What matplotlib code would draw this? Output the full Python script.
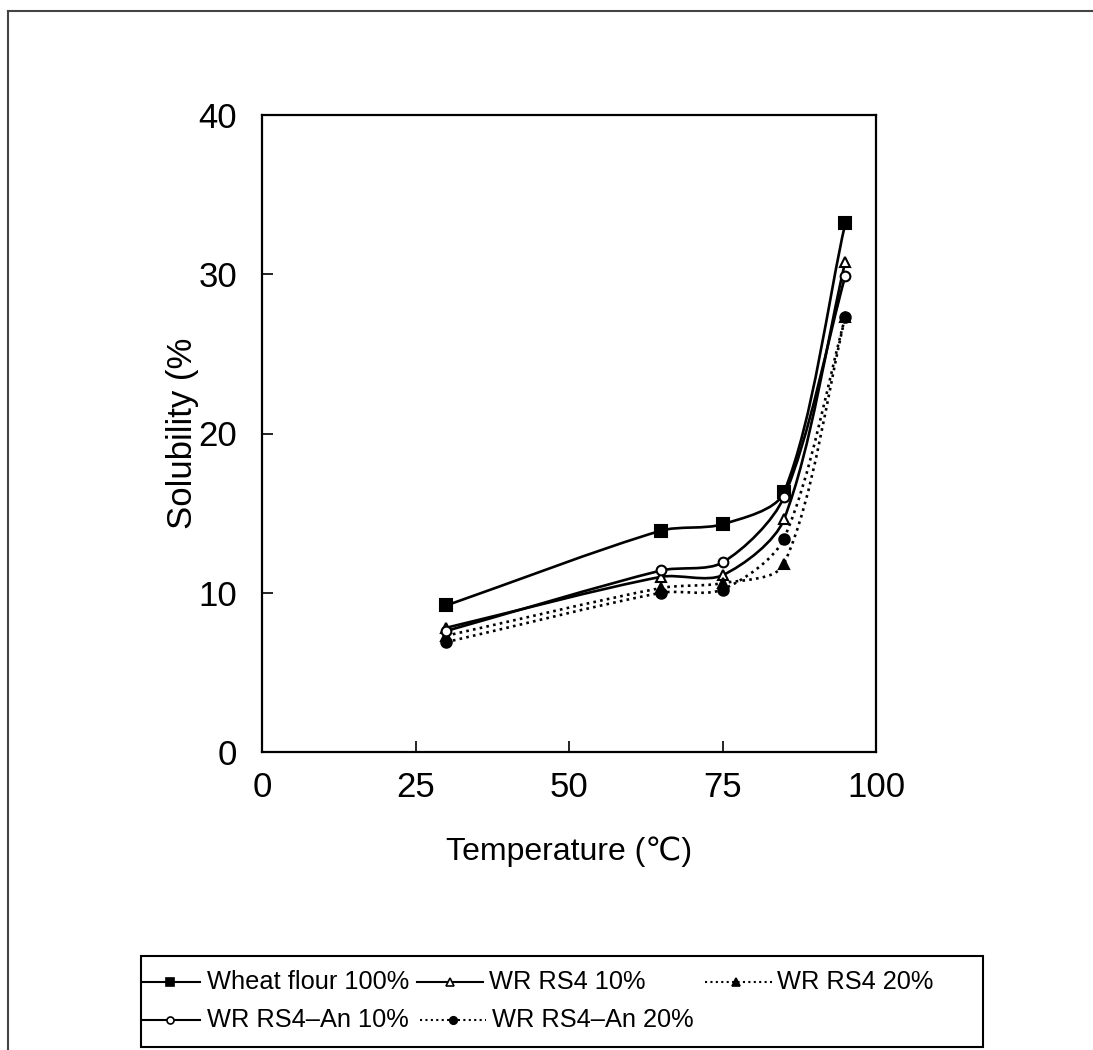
import numpy as np
import matplotlib
matplotlib.use("Agg")
import matplotlib.pyplot as plt
from matplotlib.path import Path
from matplotlib.patches import PathPatch, Rectangle
from matplotlib.lines import Line2D

plt.rcParams['font.family'] = ['Liberation Sans', 'DejaVu Sans']

temperature = [30, 65, 75, 85, 95]
wheat_flour_100 = [9.2, 13.9, 14.3, 16.3, 33.2]
wr_rs4_10 = [7.8, 11.0, 11.1, 14.6, 30.8]
wr_rs4_20 = [7.3, 10.3, 10.6, 11.8, 27.3]
wr_rs4_an_10 = [7.6, 11.4, 11.9, 16.0, 29.9]
wr_rs4_an_20 = [6.9, 10.0, 10.2, 13.4, 27.3]

x_ticks = [0, 25, 50, 75, 100]
y_ticks = [0, 10, 20, 30, 40]

DOTTED = (0, (1.0, 1.6))
series = [
    ("Wheat flour 100%", wheat_flour_100, "s", "black", "-", 8.5),
    ("WR RS4 10%", wr_rs4_10, "^", "white", "-", 7.5),
    ("WR RS4 20%", wr_rs4_20, "^", "black", DOTTED, 7.5),
    ("WR RS4\u2013An 10%", wr_rs4_an_10, "o", "white", "-", 7),
    ("WR RS4\u2013An 20%", wr_rs4_an_20, "o", "black", DOTTED, 7.5),
]

W, H = 1093, 1050
fig = plt.figure(figsize=(W / 100, H / 100), dpi=100)
ax = fig.add_axes([262 / W, 1 - 752 / H, 614 / W, 637 / H])
ax.set_xlim(0, 100)
ax.set_ylim(0, 40)


def smooth_path(xs, ys, k=0.85):
    """Smoothed Bezier path through the points, tangents built in display space."""
    pts = ax.transData.transform(np.column_stack([xs, ys]).astype(float))
    n = len(pts)
    verts = [pts[0]]
    codes = [Path.MOVETO]
    tangents = []
    for i in range(n):
        a = pts[max(i - 1, 0)]
        b = pts[min(i + 1, n - 1)]
        t = b - a
        tangents.append(t / np.linalg.norm(t))
    for i in range(n - 1):
        p1, p2 = pts[i], pts[i + 1]
        d = np.linalg.norm(p2 - p1)
        c1 = p1 + tangents[i] * d * k / 3.0
        c2 = p2 - tangents[i + 1] * d * k / 3.0
        verts += [c1, c2, p2]
        codes += [Path.CURVE4] * 3
    data_verts = ax.transData.inverted().transform(np.array(verts))
    return Path(data_verts, codes)


handles = {}
for label, ys, marker, face, ls, ms in series:
    patch = PathPatch(smooth_path(temperature, ys), facecolor="none",
                      edgecolor="black", linewidth=1.9, linestyle=ls,
                      transform=ax.transData, zorder=2)
    ax.add_patch(patch)
    ax.plot(temperature, ys, linestyle="none", marker=marker, markersize=ms,
            markerfacecolor=face, markeredgecolor="black",
            markeredgewidth=1.5, zorder=3)
    handles[label] = (marker, face, ls, ms)

ax.set_xticks(x_ticks)
ax.set_yticks(y_ticks)
ax.tick_params(direction="in", length=8, width=1.2, labelsize=25)
ax.tick_params(axis="y", pad=18)
ax.tick_params(axis="x", pad=14)
for sp in ax.spines.values():
    sp.set_linewidth(1.6)

ax.set_xlabel("Temperature (\u2103)", fontsize=23)
ax.xaxis.set_label_coords(0.5, -0.133)
ax.set_ylabel("Solubility (%", fontsize=25)
ax.yaxis.set_label_coords(-0.103, 0.5)


def fx(px):
    return px / W


def fy(py):
    return 1 - py / H


# legend box with entries laid out in two rows
fig.add_artist(Rectangle((fx(141), fy(1047)), fx(983) - fx(141),
                         fy(956) - fy(1047), transform=fig.transFigure,
                         facecolor="white", edgecolor="black", lw=1.5))
legend_layout = [
    ("Wheat flour 100%", 143, 200, 170, 207, 982),
    ("WR RS4 10%", 417, 483, 450, 489, 982),
    ("WR RS4 20%", 705, 772, 736, 777, 982),
    ("WR RS4\u2013An 10%", 143, 200, 170, 207, 1020),
    ("WR RS4\u2013An 20%", 420, 486, 453, 492, 1020),
]
for label, x0, x1, xm, xt, yr in legend_layout:
    marker, face, ls, ms = handles[label]
    fig.add_artist(Line2D([fx(x0), fx(x1)], [fy(yr), fy(yr)],
                          transform=fig.transFigure, color="black",
                          linestyle=ls, lw=1.5))
    fig.add_artist(Line2D([fx(xm)], [fy(yr)], transform=fig.transFigure,
                          marker=marker, markersize=ms * 0.72,
                          markerfacecolor=face, markeredgecolor="black",
                          markeredgewidth=1.2, linestyle="none"))
    fig.text(fx(xt), fy(yr), label, fontsize=18.3,
             ha="left", va="center")

# outer chart frame
fig.add_artist(Line2D([fx(8), fx(8)], [0, fy(11)],
                      transform=fig.transFigure, color="#444444", lw=1.5))
fig.add_artist(Line2D([fx(8), 1], [fy(11), fy(11)],
                      transform=fig.transFigure, color="#444444", lw=1.5))

fig.savefig("out.png", dpi=100)
